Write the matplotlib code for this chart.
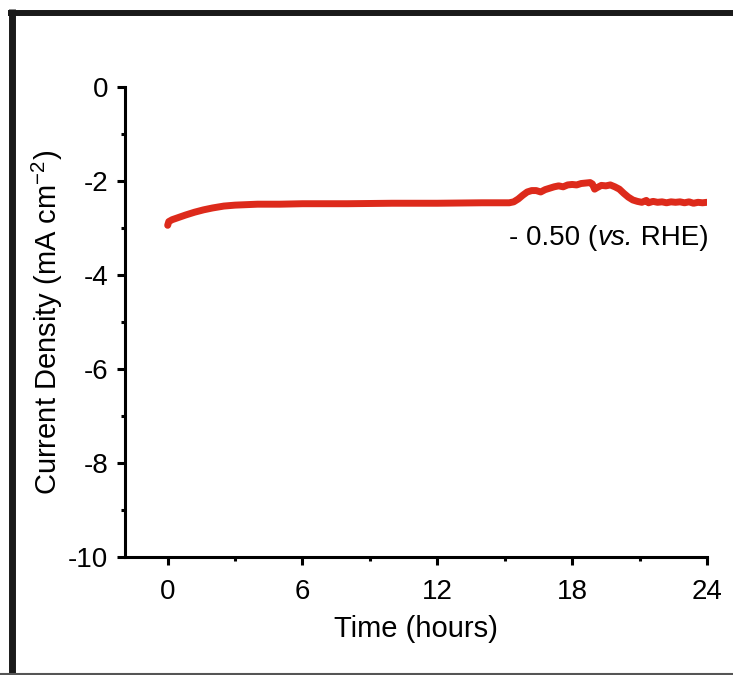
"""Chronoamperometry trace at -0.50 V vs. RHE over 24 hours."""

import matplotlib
matplotlib.use("Agg")
import matplotlib.pyplot as plt
from matplotlib.lines import Line2D
from matplotlib.ticker import MultipleLocator

plt.rcParams["font.family"] = ["Liberation Sans", "DejaVu Sans"]
plt.rcParams["mathtext.fontset"] = "custom"
plt.rcParams["mathtext.rm"] = "Liberation Sans"
plt.rcParams["mathtext.it"] = "Liberation Sans:italic"
plt.rcParams["axes.unicode_minus"] = False

# time (hours) and current density (mA cm^-2)
time_h = [
    0.0, 0.05, 0.2, 0.5, 0.8, 1.2, 1.6, 2.0, 2.5, 3.0, 3.5, 4.0, 5.0, 6.0,
    8.0, 10.0, 12.0, 14.0, 15.2,
    15.4, 15.6, 15.8, 16.0, 16.2, 16.4, 16.6, 16.8, 17.0, 17.2, 17.4, 17.6,
    17.8, 18.0, 18.2, 18.4, 18.6, 18.8, 18.9, 19.0, 19.1, 19.3, 19.5, 19.7,
    19.9, 20.1, 20.3, 20.5, 20.7, 20.9, 21.1, 21.3, 21.4, 21.6, 21.8, 22.0,
    22.2, 22.4, 22.6, 22.8, 23.0, 23.2, 23.4, 23.6, 23.8, 24.0,
]
current = [
    -2.94, -2.86, -2.82, -2.77, -2.72, -2.66, -2.61, -2.57, -2.53, -2.51,
    -2.50, -2.49, -2.49, -2.48, -2.48, -2.47, -2.47, -2.46, -2.46,
    -2.44, -2.38, -2.30, -2.23, -2.20, -2.20, -2.23, -2.18, -2.15, -2.12,
    -2.10, -2.12, -2.08, -2.07, -2.08, -2.05, -2.04, -2.03, -2.06, -2.17,
    -2.14, -2.09, -2.10, -2.08, -2.12, -2.17, -2.26, -2.34, -2.40, -2.43,
    -2.45, -2.41, -2.46, -2.43, -2.45, -2.44, -2.46, -2.44, -2.45, -2.44,
    -2.46, -2.44, -2.47, -2.45, -2.46, -2.45,
]

x_ticks = [0, 6, 12, 18, 24]
y_ticks = [0, -2, -4, -6, -8, -10]

fig = plt.figure(figsize=(7.33, 6.75), dpi=100)
ax = fig.add_axes([0.1705, 0.1748, 0.794, 0.696])

ax.plot(time_h, current, color="#DD2A1B", lw=5, solid_capstyle="round",
        solid_joinstyle="round")

ax.set_xlim(-1.9, 24)
ax.set_ylim(-10, 0)
ax.set_xticks(x_ticks)
ax.set_yticks(y_ticks)
ax.xaxis.set_minor_locator(MultipleLocator(3))
ax.yaxis.set_minor_locator(MultipleLocator(1))
ax.tick_params(which="major", direction="out", length=6, width=2.2,
               labelsize=20, pad=6)
ax.tick_params(axis="x", which="major", pad=10)
ax.tick_params(which="minor", direction="out", length=3, width=2.2)

for side in ("top", "right"):
    ax.spines[side].set_visible(False)
for side in ("left", "bottom"):
    ax.spines[side].set_linewidth(2.2)

ax.set_xlabel("Time (hours)", fontsize=21, labelpad=7)
ax.set_ylabel("Current Density (mA cm$^{-2}$)", fontsize=21, labelpad=2)

# potential label, with "vs." in italics
t1 = ax.text(15.2, -3.2, "- 0.50 (", fontsize=20, ha="left", va="center")
t2 = ax.annotate("vs.", xy=(1, 0), xycoords=t1, fontsize=20, style="italic",
                 ha="left", va="bottom")
ax.annotate(" RHE)", xy=(1, 0), xycoords=t2, fontsize=20,
            ha="left", va="bottom")

# dark frame around the panel
W, H = 733, 675
fig.add_artist(Line2D([11.5 / W, 11.5 / W], [0, 1 - 9 / H], color="#1a1a1a",
                      lw=5, transform=fig.transFigure, solid_capstyle="butt"))
fig.add_artist(Line2D([8 / W, 1], [1 - 12.5 / H, 1 - 12.5 / H], color="#1a1a1a",
                      lw=4.3, transform=fig.transFigure, solid_capstyle="butt"))
fig.add_artist(Line2D([0, 1], [1 / H, 1 / H], color="#555555", lw=1.5,
                      transform=fig.transFigure))

fig.savefig("out.png", dpi=100)
